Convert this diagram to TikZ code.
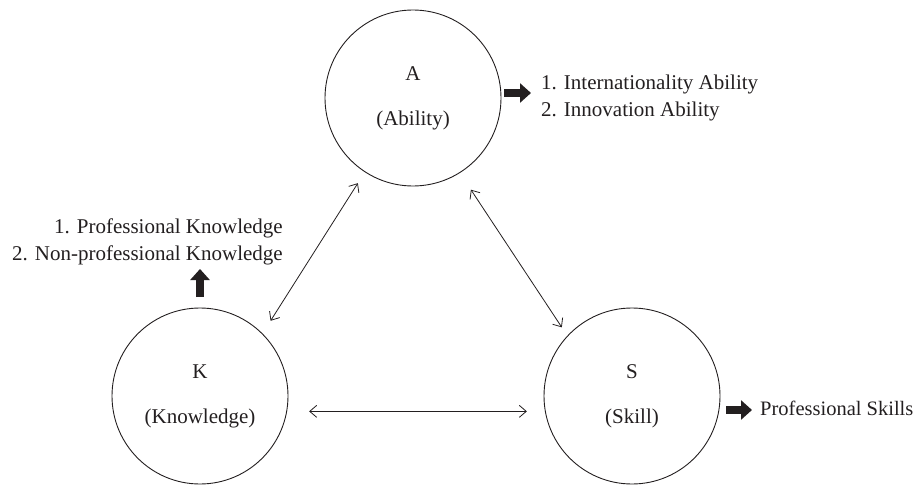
\documentclass[tikz,border=0pt]{standalone}
\usepackage{fontspec}
\setmainfont{Liberation Serif}
\usetikzlibrary{arrows.meta,calc}
\definecolor{ink}{HTML}{231F20}
\begin{document}
\begin{tikzpicture}[x=1pt,y=-1pt,
  circ/.style={circle,draw=ink,line width=0.9pt,minimum size=176pt,inner sep=0pt,align=center,font=\fontsize{21}{45}\selectfont,text=ink},
  link/.style={line width=0.8pt,draw=ink,{Straight Barb[length=7pt,width=12pt]}-{Straight Barb[length=7pt,width=12pt]}},
  blockarrow/.style={line width=8pt,draw=ink,-{Triangle[length=11pt,width=19pt]}},
  lbl/.style={font=\fontsize{21}{27}\selectfont,text=ink,inner sep=0pt}]
\useasboundingbox (0,0) rectangle (916,487);

\node[circ] (A) at (413,98) {A\\(Ability)};
\node[circ] (K) at (200,396) {K\\(Knowledge)};
\node[circ] (S) at (632,396) {S\\(Skill)};

\draw[link,shorten <=15pt,shorten >=13pt] (K.45) -- (A.237);
\draw[link,shorten <=20pt,shorten >=10pt] (A.302) -- (S.137);
\draw[link,shorten <=22pt,shorten >=18pt] (K.-10) -- (S.190);

\coordinate (aS) at (504,93);
\coordinate (aE) at (531,93);
\draw[blockarrow] (aS) -- (aE);
\node[lbl,anchor=west,align=left] (Atext) at (541,97.5) {1. Internationality Ability\\2. Innovation Ability};

\coordinate (kS) at (200,297);
\coordinate (kE) at (200,269);
\draw[blockarrow] (kS) -- (kE);
\node[lbl,anchor=east,align=right] (Ktext) at (283,241.5) {1. Professional Knowledge\\2. Non-professional Knowledge};

\coordinate (sS) at (726,410);
\coordinate (sE) at (752,410);
\draw[blockarrow] (sS) -- (sE);
\node[lbl,anchor=west,font=\fontsize{20.5}{27}\selectfont] (Stext) at (760,408) {Professional Skills};
\end{tikzpicture}
\end{document}
